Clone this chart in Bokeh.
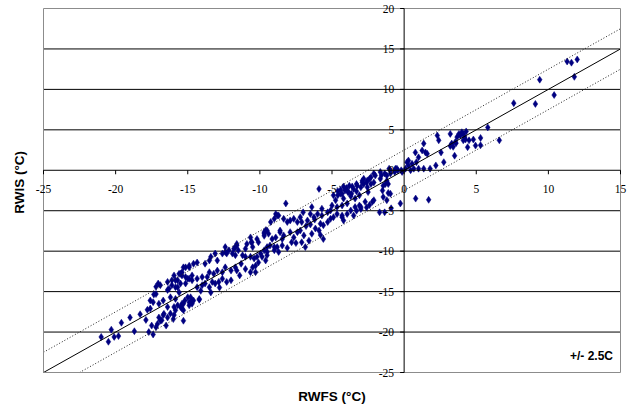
from bokeh.plotting import figure
from bokeh.models import Label, LabelSet, Range1d, ColumnDataSource
from bokeh.embed import file_html
from bokeh.resources import INLINE
import math

warm_pts = [(12.0,13.7),(11.6,13.3),(11.3,13.45),(11.8,11.55),(9.4,11.2),(10.4,9.3),(9.1,8.2),(7.6,8.3),(5.8,5.3),(6.6,3.7),(5.3,4.0),(5.3,3.1),
    (4.95,3.05),(4.8,3.8),(4.5,3.7),(4.4,2.85),(4.3,4.8),(4.2,4.1),(4.1,4.5),(4.0,4.7),(3.9,4.3),(3.8,4.5),(3.67,4.1),(3.55,3.5),(3.5,1.8),(3.4,2.9),(3.3,3.3),(3.2,4.5),(4.25,3.8),(4.1,3.7),(3.6,3.35),(3.2,3.0),
    (2.75,1.0),(2.56,2.2),(2.4,3.7),(2.3,4.3),(2.2,0.6),(1.8,0.2),(1.6,2.05),(1.48,2.2),(1.36,3.3),(1.36,0.2),(1.25,2.45),(1.0,1.6),(1.0,0.2),(0.85,1.0),(0.78,2.2),(0.67,0.2),(0.55,0.8),(0.3,0.6),(0.3,1.2),(0.2,1.0),(0.1,0.2),(0.45,0.0),
    (0.8,-3.5),(1.7,-3.65),(-0.26,-4.1)]
near_zero_pts = [(-0.2,0.0),(-0.44,0.0),(-0.6,0.2),(-0.95,0.0),(-1.04,0.2),(-0.65,-0.2),(-0.95,-0.4),(-1.34,-0.4),(-1.57,-0.6),(-1.2,-1.3),(-1.1,-1.7),(-1.45,-1.9),(-2.0,-0.65),(-2.4,-1.05),(-2.6,-1.5),(-2.9,-1.3),(-3.3,-1.7),(-3.5,-2.3),(-3.65,-2.9),(-3.9,-2.7),(-4.1,-2.5),(-4.3,-2.9),(-4.6,-3.1),(-5.9,-2.3),(-2.5,-2.7),(-1.1,-2.8),(-1.45,-3.3),(-1.2,-3.7),(-2.1,-3.7),(-2.2,-3.9),(-2.7,-3.9),(-3.1,-4.35),(-3.0,-4.8),(-3.4,-4.55),(-3.5,-5.6),(-3.95,-5.4),(-4.3,-5.8),(-4.2,-6.2),(-1.7,-5.2),(-1.35,-5.2),(-0.9,-4.7),(-0.5,0.2),(-0.14,-0.2),(-1.2,-0.65),(-1.65,-0.2),(-2.1,-0.4),(-1.65,-1.05),(-2.3,-0.85),(-2.55,-1.25),(-2.8,-1.05),(-2.9,-1.5),(-2.3,-1.7),(-2.1,-1.5),(-1.3,-1.7),(-3.0,-2.1),(-3.25,-1.9),(-0.95,-2.9),(-1.5,-2.5),(-2.8,-1.7),(-2.55,-2.1),(-3.1,-3.1),(-3.4,-3.5),(-3.85,-2.7),(-4.4,-2.9),(-4.2,-3.5),(-4.9,-3.1),(-4.75,-3.7),(-3.95,-4.1),(-4.3,-4.35),(-4.65,-4.55),(-5.0,-4.35),(-3.7,-4.97),(-3.0,-4.55),(-4.2,-2.0),(-4.0,-2.2),(-3.8,-1.9),(-3.6,-2.0),(-4.4,-2.4),(-3.7,-3.2),(-3.3,-2.6),(-4.6,-2.6),(-5.1,-4.97),(-5.3,-5.2),(-5.7,-4.75),(-5.7,-5.6),(-4.65,-5.4),(-4.3,-5.6),(-5.1,-6.0),(-5.3,-6.4),(-5.6,-6.8),(-5.8,-6.6),(-5.9,-7.45),(-5.8,-8.0),(-5.6,-8.5),(-3.3,-5.0),(-2.4,-4.3),(-2.6,-4.6),(-4.9,-5.8)]
mid_pts = [(-8.2,-4.1),(-6.0,-5.4),(-6.25,-5.8),(-6.5,-5.4),(-6.4,-4.55),(-7.0,-5.2),(-7.2,-5.8),(-6.7,-6.2),(-7.1,-6.4),(-7.4,-6.4),(-7.65,-6.0),(-7.9,-6.2),(-8.1,-6.4),(-8.35,-6.0),(-8.7,-5.6),(-8.9,-5.4),(-9.0,-6.0),(-9.25,-6.4),(-9.5,-7.45),(-9.7,-7.85),(-8.6,-7.45),(-8.35,-8.05),(-7.9,-7.65),(-7.65,-8.3),(-7.4,-7.65),(-7.2,-7.45),(-6.95,-8.05),(-6.85,-9.5),(-7.1,-8.9),(-6.6,-8.7),(-6.4,-7.85),(-6.15,-7.2),(-6.8,-6.9),(-6.2,-6.1),(-9.0,-9.5),(-9.5,-10.1),(-8.8,-5.6),(-9.6,-7.4),(-9.4,-7.85),(-9.15,-8.5),(-8.9,-8.3),(-8.6,-7.65),(-8.45,-8.5),(-8.8,-9.5),(-8.7,-10.1),(-8.45,-9.3),(-9.3,-9.3),(-9.5,-9.5),(-9.0,-9.9),(-9.7,-9.9),(-7.8,-8.9),(-8.1,-9.6),(-7.5,-9.0),(-6.5,-6.7)]
cold_pts = [(-9.7,-8.1),(-10.1,-8.9),(-10.2,-8.5),(-10.6,-8.9),(-10.5,-9.5),(-10.9,-9.1),(-11.0,-9.7),(-11.6,-9.3),(-11.5,-9.9),(-11.8,-9.7),(-12.15,-9.9),(-12.3,-10.3),(-11.9,-10.3),(-11.7,-10.5),(-11.2,-10.5),(-11.0,-10.7),(-10.65,-10.7),(-10.4,-10.9),(-10.2,-10.7),(-9.95,-10.3),(-9.5,-10.5),(-9.85,-10.7),(-9.6,-11.15),(-10.1,-11.4),(-10.3,-11.8),(-10.5,-12.0),(-10.65,-12.6),(-10.3,-12.6),(-11.0,-12.2),(-11.3,-11.55),(-11.7,-12.0),(-11.6,-12.4),(-12.0,-12.4),(-12.4,-12.0),(-12.6,-12.6),(-12.95,-12.4),(-13.2,-12.8),(-13.5,-12.6),(-13.65,-13.2),(-14.0,-13.2),(-14.35,-13.4),(-14.7,-13.6),(-14.9,-13.4),(-15.15,-13.2),(-15.4,-13.0),(-14.1,-14.9),(-14.35,-14.45),(-14.0,-14.2),(-13.8,-14.0),(-13.5,-14.45),(-13.4,-15.1),(-13.3,-13.8),(-13.1,-14.0),(-12.85,-13.8),(-12.6,-13.4),(-12.3,-13.8),(-12.0,-13.6),(-14.9,-11.8),(-15.15,-12.0),(-15.4,-12.6),(-14.35,-11.4),(-14.6,-11.55),(-13.8,-11.55),(-13.5,-11.15),(-12.95,-11.15),(-13.1,-10.3),(-12.4,-10.1),(-12.4,-9.5),(-11.6,-9.1),(-10.65,-8.3),(-13.4,-10.7),(-12.6,-10.3),(-11.7,-9.5),(-10.55,-8.9),(-9.7,-7.65),(-15.0,-15.7),(-14.9,-16.3),(-14.7,-16.1),(-14.2,-15.9),(-14.8,-15.7),(-14.7,-16.5),(-14.9,-16.7),(-14.6,-16.1),(-14.2,-16.0),(-14.7,-13.0),(-14.9,-12.0),(-15.0,-13.4),(-15.15,-14.0),(-12.8,-14.5),(-11.4,-13.0)]
coldest_pts = [(-21.0,-20.6),(-20.5,-21.2),(-20.1,-20.6),(-19.8,-20.5),(-20.3,-19.7),(-19.6,-18.85),(-19.0,-18.2),(-18.7,-19.9),(-18.3,-17.8),(-17.9,-18.5),(-17.7,-20.0),(-17.4,-20.3),(-17.6,-17.1),(-17.5,-19.2),(-17.2,-19.4),(-17.1,-19.0),(-16.9,-18.6),(-17.0,-18.2),(-16.7,-17.9),(-16.5,-19.2),(-16.4,-18.2),(-16.2,-17.7),(-16.0,-18.4),(-15.85,-17.3),(-15.95,-16.9),(-15.7,-16.7),(-15.5,-16.9),(-15.3,-17.3),(-15.4,-16.5),(-15.2,-16.1),(-15.3,-18.6),(-17.4,-16.3),(-17.0,-16.5),(-17.2,-15.3),(-16.9,-14.2),(-17.05,-14.0),(-16.4,-13.8),(-16.3,-14.65),(-15.95,-13.0),(-16.1,-14.2),(-15.85,-13.6),(-15.7,-14.45),(-15.5,-12.8),(-15.3,-12.0),(-16.7,-16.1),(-16.2,-15.7),(-15.85,-15.9),(-17.8,-17.25),(-17.6,-16.1),(-17.35,-15.35),(-17.2,-14.4),(-16.8,-18.55),(-16.65,-17.75),(-16.4,-16.9),(-16.4,-14.8),(-16.1,-13.6),(-15.95,-17.9),(-15.4,-17.1),(-15.7,-13.6),(-15.5,-14.0),(-15.85,-14.45),(-15.6,-15.1),(-15.3,-16.5),(-15.6,-12.8)]

x_ticks = [-25, -20, -15, -10, -5, 0, 5, 10, 15]
y_ticks = [-25, -20, -15, -10, -5, 0, 5, 10, 15, 20]
grid_ticks = [-20, -15, -10, -5, 5, 10, 15]
line_x = [-25, 15]
band = 2.5
x_title = "RWFS (°C)"
y_title = "RWIS (°C)"
band_note = "+/- 2.5C"

all_pts = warm_pts + near_zero_pts + mid_pts + cold_pts + coldest_pts
rwfs = [pt[0] for pt in all_pts]
rwis = [pt[1] for pt in all_pts]

# plot-area limits (data) and its placement on the 636x406 canvas (pixels)
X0, X1, Y0, Y1 = -25, 15, -25, 20
W, H = 636, 406
LEFT, RIGHT, TOP, BOTTOM = 43, 620, 8, 372
px_x = (X1 - X0) / (RIGHT - LEFT)   # data units per pixel
px_y = (Y1 - Y0) / (BOTTOM - TOP)

# the frame covers the whole canvas so nothing gets clipped; the plot area is drawn explicitly
p = figure(width=W, height=H,
           x_range=Range1d(X0 - LEFT * px_x, X1 + (W - RIGHT) * px_x),
           y_range=Range1d(Y0 - (H - BOTTOM) * px_y, Y1 + TOP * px_y),
           output_backend="svg", toolbar_location=None, title=None,
           x_axis_location=None, y_axis_location=None,
           min_border=0, min_border_left=0, min_border_right=0, min_border_top=0, min_border_bottom=0,
           background_fill_color="white", border_fill_color="white", outline_line_color=None)
p.xgrid.visible = False
p.ygrid.visible = False

# horizontal gridlines across the plot area
p.segment(x0=[X0] * len(grid_ticks), y0=grid_ticks, x1=[X1] * len(grid_ticks), y1=grid_ticks,
          line_color="#000000", line_width=1)

p.scatter(rwfs, rwis, marker="diamond", size=7, fill_color="#000080", line_color="#000080", line_width=0.5)

# 1:1 line and +/- band lines (kept inside the plot area)
p.line(line_x, line_x, line_color="#000000", line_width=1)
p.line(line_x, [v + band for v in line_x], line_color="#222222", line_width=1, line_dash="1 2")
lower_x = [Y0 + band, X1]
p.line(lower_x, [v - band for v in lower_x], line_color="#222222", line_width=1, line_dash="1 2")

# plot-area border
p.quad(left=[X0], right=[X1], bottom=[Y0], top=[Y1], fill_color=None,
       line_color="#8c8c8c", line_width=1)

# axes crossing at the origin
p.segment(x0=[X0], y0=[0], x1=[X1], y1=[0], line_color="#000000", line_width=1)
p.segment(x0=[0], y0=[Y0], x1=[0], y1=[Y1], line_color="#000000", line_width=1)
p.segment(x0=x_ticks, y0=[0] * len(x_ticks), x1=x_ticks, y1=[-4 * px_y] * len(x_ticks),
          line_color="#000000", line_width=1)
p.segment(x0=[0] * len(y_ticks), y0=y_ticks, x1=[-4 * px_x] * len(y_ticks), y1=y_ticks,
          line_color="#000000", line_width=1)

xlab_src = ColumnDataSource(dict(x=x_ticks, y=[0] * len(x_ticks), t=[str(v) for v in x_ticks]))
ylab_src = ColumnDataSource(dict(x=[0] * len(y_ticks), y=y_ticks, t=[str(v) for v in y_ticks]))
p.add_layout(LabelSet(x="x", y="y", text="t", source=xlab_src, text_align="center",
                      text_baseline="middle", y_offset=-18.5, text_font="Liberation Sans",
                      text_font_size="11.5px", text_color="#000000"))
p.add_layout(LabelSet(x="x", y="y", text="t", source=ylab_src, text_align="right",
                      text_baseline="middle", x_offset=-10, text_font="Liberation Sans",
                      text_font_size="11.5px", text_color="#000000"))

p.add_layout(Label(x=(X0 + X1) / 2, y=Y0, y_offset=-24, text=x_title, text_align="center",
                   text_baseline="middle", text_font="Liberation Sans", text_font_size="13.5px",
                   text_font_style="bold", text_color="#000000"))
p.add_layout(Label(x=X0, x_offset=-24.5, y=(Y0 + Y1) / 2 + 1, text=y_title, angle=math.pi / 2,
                   text_align="center", text_baseline="middle", text_font="Liberation Sans",
                   text_font_size="13.5px", text_font_style="bold", text_color="#000000"))
p.add_layout(Label(x=X1, x_offset=-29, y=Y0, y_offset=16.5, text=band_note, text_align="center",
                   text_baseline="middle", text_font="Liberation Sans", text_font_size="12px",
                   text_font_style="bold", text_color="#000000"))

open("out.html", "w").write(file_html(p, INLINE))
